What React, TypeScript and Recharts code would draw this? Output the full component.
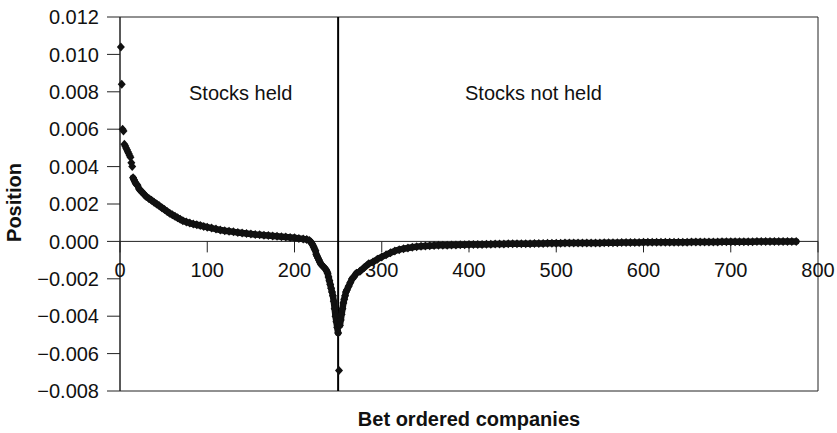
import {
  ScatterChart,
  Scatter,
  XAxis,
  YAxis,
  ReferenceLine,
  ReferenceArea,
  ReferenceDot,
} from "recharts";

// companies ordered by bet (rank) and their active position
const rank = [
  1, 2, 3, 4, 5, 6, 7, 8, 9, 10, 11, 12, 13, 14, 15, 16, 17, 18, 20, 22, 24, 26, 28, 30,
  33, 36, 39, 42, 45, 48, 51, 54, 57, 60, 63, 66, 69, 72, 76, 80, 84, 88, 92, 96, 100,
  105, 110, 115, 120, 125, 130, 135, 140, 145, 150, 155, 160, 165, 170, 175, 180, 185,
  190, 195, 200, 205, 210, 214,
  217, 219, 220, 221, 222, 223, 224, 225, 226, 227, 228, 229, 230, 232, 234, 236, 237,
  238, 239, 240, 241, 242, 243, 244, 245, 246, 247, 248, 249, 250, 251,
  252, 253, 254, 255, 256, 257, 258, 259, 260, 262, 264, 266, 268, 271, 275, 280, 285,
  290, 295, 300, 305, 310, 315, 320, 325, 330, 335, 340, 345, 350, 355, 360, 365, 370,
  375, 380, 385, 390, 395, 400, 405, 410, 415, 420, 425, 430, 435, 440, 445, 450, 455,
  460, 465, 470, 475, 480, 485, 490, 495, 500, 505, 510, 515, 520, 525, 530, 535, 540,
  545, 550, 555, 560, 565, 570, 575, 580, 585, 590, 595, 600, 605, 610, 615, 620, 625,
  630, 635, 640, 645, 650, 655, 660, 665, 670, 675, 680, 685, 690, 695, 700, 705, 710,
  715, 720, 725, 730, 735, 740, 745, 750, 755, 760, 765, 770, 775,
];

const position = [
  0.0104, 0.0084, 0.006, 0.0059, 0.0052, 0.0051, 0.005, 0.0049, 0.0048, 0.0047, 0.0046,
  0.0045, 0.0042, 0.004, 0.0034, 0.0033, 0.0032, 0.0031, 0.003, 0.0028, 0.0027, 0.0026,
  0.0025, 0.0024, 0.0023, 0.0022, 0.0021, 0.002, 0.0019, 0.0018, 0.0017, 0.0016, 0.0015,
  0.00142, 0.00134, 0.00126, 0.00118, 0.00111, 0.00104, 0.00098, 0.00093, 0.00089,
  0.00085, 0.0008, 0.00076, 0.00071, 0.00066, 0.00061, 0.00057, 0.00054, 0.00051,
  0.00048, 0.00045, 0.00042, 0.0004, 0.00037, 0.00035, 0.00033, 0.00031, 0.00029,
  0.00027, 0.00025, 0.00023, 0.00021, 0.00019, 0.00016, 0.00013, 0.0001,
  0.00005, -0.00005, -0.00012, -0.0002, -0.0003, -0.0004, -0.0005, -0.0007, -0.0008,
  -0.0009, -0.001, -0.0011, -0.0012, -0.0013, -0.0014, -0.0015, -0.0016, -0.0017,
  -0.0019, -0.0021, -0.0023, -0.0025, -0.0027, -0.0029, -0.0032, -0.0036, -0.004,
  -0.0043, -0.0046, -0.0049, -0.0069,
  -0.0045, -0.0042, -0.0039, -0.0036, -0.0033, -0.0031, -0.0029, -0.0027, -0.0026,
  -0.0024, -0.0022, -0.002, -0.0019, -0.0017, -0.0016, -0.0014, -0.0012, -0.0011,
  -0.00095, -0.00083, -0.00072, -0.00061, -0.00051, -0.00044, -0.00039, -0.00035,
  -0.00031, -0.00028, -0.00026, -0.00024, -0.00023, -0.00022, -0.00021, -0.0002,
  -0.0002, -0.00019, -0.00019, -0.00018, -0.00018, -0.00017, -0.00017, -0.00016,
  -0.00016, -0.00015, -0.00015, -0.00014, -0.00014, -0.00014, -0.00013, -0.00013,
  -0.00013, -0.00012, -0.00012, -0.00012, -0.00011, -0.00011, -0.00011, -0.0001,
  -0.0001, -0.0001, -0.0001, -0.00009, -0.00009, -0.00009, -0.00009, -0.00008,
  -0.00008, -0.00008, -0.00008, -0.00008, -0.00007, -0.00007, -0.00007, -0.00007,
  -0.00006, -0.00006, -0.00006, -0.00006, -0.00006, -0.00005, -0.00005, -0.00005,
  -0.00005, -0.00005, -0.00004, -0.00004, -0.00004, -0.00004, -0.00004, -0.00004,
  -0.00003, -0.00003, -0.00003, -0.00003, -0.00003, -0.00003, -0.00003, -0.00002,
  -0.00002, -0.00002, -0.00002, -0.00002, -0.00002, -0.00002, -0.00002, -0.00001,
  -0.00001, -0.00001, -0.00001, -0.00001, -0.00001, -0.00001, -0.00001, -0.00001,
  -0.00001,
];

const xTicks = [0, 100, 200, 300, 400, 500, 600, 700, 800];
const yTicks = [-0.008, -0.006, -0.004, -0.002, 0, 0.002, 0.004, 0.006, 0.008, 0.01, 0.012];
const splitRank = 250; // boundary between held / not held

const data = rank.map((x, i) => ({ x, y: position[i] }));
// the dense runs of points are drawn as a joined band, the stray ones on their own
const topPoints = data.filter((d) => d.x < 15);
const heldRun = data.filter((d) => d.x >= 15 && d.x <= splitRank);
const troughPoint = data.filter((d) => d.x === splitRank + 1);
const notHeldRun = data.filter((d) => d.x > splitRank + 1);

const FONT = "Arial, 'Liberation Sans', Helvetica, sans-serif";
const FS = 20;
const INK = "#111";

function fmtY(v: number) {
  const s = Math.abs(v).toFixed(3);
  return v < -1e-9 ? "\u2212" + s : s;
}

function Diamond(props: any) {
  const { cx, cy } = props;
  if (cx == null || cy == null) return null;
  return (
    <polygon
      points={`${cx},${cy - 4.5} ${cx + 4},${cy} ${cx},${cy + 4.5} ${cx - 4},${cy}`}
      fill={INK}
    />
  );
}

const band = { stroke: INK, strokeWidth: 6.5, strokeLinecap: "round", strokeLinejoin: "round" } as any;

// x ticks sit on the zero line, not at the bottom of the plot
function ZeroTick({ cx, cy, label }: { cx?: number; cy?: number; label: number }) {
  if (cx == null || cy == null) return null;
  return (
    <g>
      <line x1={cx} y1={cy} x2={cx} y2={cy + 11} stroke="#222" strokeWidth={1} />
      <text x={cx} y={cy + 36} textAnchor="middle" fontSize={FS} fontFamily={FONT} fill={INK}>
        {label}
      </text>
    </g>
  );
}

export default function App() {
  return (
    <div style={{ position: "absolute", left: 0, top: 0, width: 837, height: 433, background: "#fff" }}>
      <ScatterChart width={837} height={433} margin={{ top: 17, right: 19, bottom: 42, left: 0 }}>
        <XAxis type="number" dataKey="x" domain={[0, 800]} ticks={xTicks} hide />
        <YAxis
          type="number"
          dataKey="y"
          domain={[-0.008, 0.012]}
          ticks={yTicks}
          width={120}
          interval={0}
          axisLine={{ stroke: "#222" }}
          tickLine={{ stroke: "#222" }}
          tickSize={13}
          tickMargin={8}
          tickFormatter={fmtY}
          tick={{ fontSize: FS, fontFamily: FONT, fill: INK }}
        />
        <ReferenceArea x1={0} x2={800} y1={-0.008} y2={0.012} fill="none" stroke="#222" strokeWidth={1} />
        <ReferenceLine y={0} stroke="#222" strokeWidth={1} />
        {xTicks.map((t) => (
          <ReferenceDot key={t} x={t} y={0} shape={(p: any) => <ZeroTick cx={p.cx} cy={p.cy} label={t} />} />
        ))}
        <ReferenceLine x={splitRank} stroke="#000" strokeWidth={2} />
        <Scatter data={topPoints} shape={<Diamond />} isAnimationActive={false} />
        <Scatter data={heldRun} shape={<Diamond />} line={band} lineType="joint" isAnimationActive={false} />
        <Scatter data={troughPoint} shape={<Diamond />} isAnimationActive={false} />
        <Scatter data={notHeldRun} shape={<Diamond />} line={band} lineType="joint" isAnimationActive={false} />
      </ScatterChart>
      <svg width={837} height={433} style={{ position: "absolute", left: 0, top: 0, pointerEvents: "none" }}>
        <text x={189} y={99.5} fontSize={FS} fontFamily={FONT} fill={INK}>Stocks held</text>
        <text x={465} y={99.5} fontSize={FS} fontFamily={FONT} fill={INK}>Stocks not held</text>
        <text x={469} y={426} textAnchor="middle" fontSize={FS} fontWeight="bold" fontFamily={FONT} fill={INK}>
          Bet ordered companies
        </text>
        <text
          x={20.5}
          y={202.5}
          textAnchor="middle"
          fontSize={FS}
          fontWeight="bold"
          fontFamily={FONT}
          fill={INK}
          transform="rotate(-90 20.5 202.5)"
        >
          Position
        </text>
      </svg>
    </div>
  );
}
